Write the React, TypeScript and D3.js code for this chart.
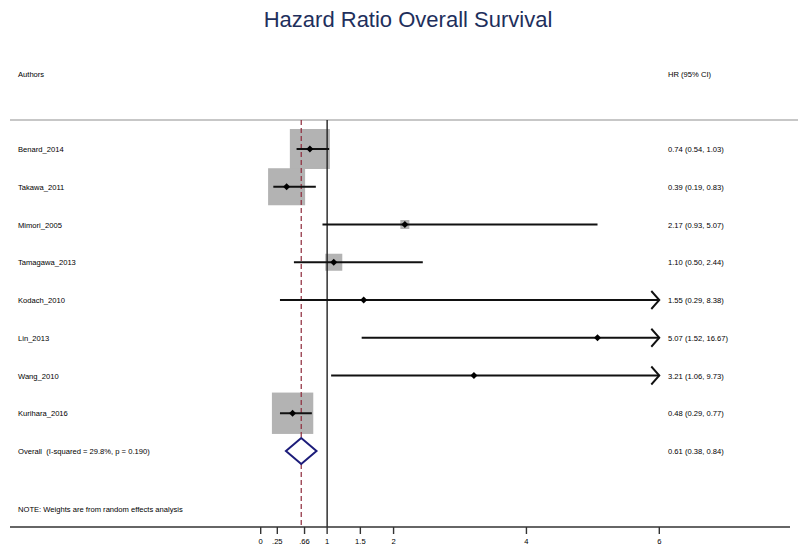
import * as d3 from 'd3';
import React, {useEffect, useRef} from 'react';

// study rows
const studies = ["Benard_2014", "Takawa_2011", "Mimori_2005", "Tamagawa_2013", "Kodach_2010", "Lin_2013", "Wang_2010", "Kurihara_2016"];
const hr = [0.74, 0.39, 2.17, 1.10, 1.55, 5.07, 3.21, 0.48];
const lower = [0.54, 0.19, 0.93, 0.50, 0.29, 1.52, 1.06, 0.29];
const upper = [1.03, 0.83, 5.07, 2.44, 8.38, 16.67, 9.73, 0.77];
const weights = [31.5, 27.0, 1.6, 5.7, 0.1, 0.2, 0.2, 33.7];

// pooled estimate
const overall = {hr: 0.61, lo: 0.38, hi: 0.84};
const overallLabel = "Overall\u00a0 (I-squared = 29.8%, p = 0.190)";

const tickValues = [0, 0.25, 0.66, 1, 1.5, 2, 4, 6];
const tickLabels = ["0", ".25", ".66", "1", "1.5", "2", "4", "6"];

const fmt = d3.format(".2f");

const App = () => {
  const svgRef = useRef<SVGSVGElement>(null);

  useEffect(() => {
    const svg = d3.select(svgRef.current);
    svg.selectAll("*").remove();

    const font = "Helvetica, Arial, 'Liberation Sans', sans-serif";
    const fs = 7.6;
    const x = d3.scaleLinear().domain([0, 6]).range([260.7, 659.3]);
    const rows = [...studies, "Overall"];
    const y = d3.scalePoint().domain(rows).range([149, 451]);
    const top = 120, axisY = 527;

    // title
    svg.append("text")
      .attr("x", 408).attr("y", 27)
      .attr("text-anchor", "middle")
      .attr("font-family", font)
      .attr("font-size", 22)
      .attr("fill", "#1e2f5c")
      .text("Hazard Ratio Overall Survival");

    // headers
    svg.append("text").attr("x", 18).attr("y", 77).attr("font-family", font).attr("font-size", fs).text("Authors");
    svg.append("text").attr("x", 668).attr("y", 77).attr("font-family", font).attr("font-size", fs).text("HR (95% CI)");

    svg.append("line")
      .attr("x1", 10).attr("x2", 798).attr("y1", top).attr("y2", top)
      .attr("stroke", "#b4b4b4").attr("stroke-width", 1.5);

    // boxes (area ~ weight)
    const k = 40 / Math.sqrt(31.5);
    svg.append("g").selectAll("rect")
      .data(studies)
      .enter()
      .append("rect")
        .attr("x", (d, i) => x(hr[i]) - k * Math.sqrt(weights[i]) / 2)
        .attr("y", (d, i) => y(d)! - k * Math.sqrt(weights[i]) / 2)
        .attr("width", (d, i) => k * Math.sqrt(weights[i]))
        .attr("height", (d, i) => k * Math.sqrt(weights[i]))
        .attr("fill", "#b3b3b3");

    // reference lines
    svg.append("line")
      .attr("x1", x(1)).attr("x2", x(1)).attr("y1", top).attr("y2", axisY)
      .attr("stroke", "#222").attr("stroke-width", 1.4);
    svg.append("line")
      .attr("x1", x(overall.hr)).attr("x2", x(overall.hr)).attr("y1", top).attr("y2", axisY)
      .attr("stroke", "#8e2a3a").attr("stroke-width", 1.2).attr("stroke-dasharray", "5,3");

    // CI lines + arrows
    const ci = svg.append("g");
    studies.forEach((s, i) => {
      const cy = y(s)!;
      const x2 = x(Math.min(upper[i], 6));
      ci.append("line")
        .attr("x1", x(lower[i])).attr("x2", x2).attr("y1", cy).attr("y2", cy)
        .attr("stroke", "#111").attr("stroke-width", 1.9);
      if (upper[i] > 6) {
        ci.append("path")
          .attr("d", `M${x2 - 8},${cy - 9}L${x2},${cy}L${x2 - 8},${cy + 9}`)
          .attr("fill", "none").attr("stroke", "#111").attr("stroke-width", 1.9);
      }
      ci.append("path")
        .attr("d", `M${x(hr[i])},${cy - 3.5}L${x(hr[i]) + 3.5},${cy}L${x(hr[i])},${cy + 3.5}L${x(hr[i]) - 3.5},${cy}Z`)
        .attr("fill", "#000");
    });

    // overall diamond
    const oy = y("Overall")!;
    svg.append("path")
      .attr("d", `M${x(overall.lo)},${oy}L${x(overall.hr)},${oy - 13}L${x(overall.hi)},${oy}L${x(overall.hr)},${oy + 13}Z`)
      .attr("fill", "#fff").attr("stroke", "#1c1c7a").attr("stroke-width", 2);

    // row labels
    const labels = svg.append("g").attr("font-family", font).attr("font-size", fs).attr("fill", "#000");
    rows.forEach((r, i) => {
      labels.append("text").attr("x", 18).attr("y", y(r)! + 3)
        .text(r === "Overall" ? overallLabel : r);
      const txt = r === "Overall"
        ? `${fmt(overall.hr)} (${fmt(overall.lo)}, ${fmt(overall.hi)})`
        : `${fmt(hr[i])} (${fmt(lower[i])}, ${fmt(upper[i])})`;
      labels.append("text").attr("x", 668).attr("y", y(r)! + 3).text(txt);
    });

    labels.append("text").attr("x", 18).attr("y", 512)
      .text("NOTE: Weights are from random effects analysis");

    // x axis
    svg.append("line")
      .attr("x1", 10).attr("x2", 790).attr("y1", axisY).attr("y2", axisY)
      .attr("stroke", "#333").attr("stroke-width", 1.6);
    const ax = svg.append("g").attr("font-family", font).attr("font-size", 7.6);
    tickValues.forEach((t, i) => {
      ax.append("line")
        .attr("x1", x(t)).attr("x2", x(t)).attr("y1", axisY).attr("y2", axisY + 7)
        .attr("stroke", "#333").attr("stroke-width", 1.4);
      ax.append("text")
        .attr("x", x(t)).attr("y", axisY + 17)
        .attr("text-anchor", "middle")
        .text(tickLabels[i]);
    });
  }, []);

  return (
    <svg ref={svgRef} width="798" height="545"
      style={{position: "absolute", left: 0, top: 0, background: "#fff"}} />
  );
};
export default App;
